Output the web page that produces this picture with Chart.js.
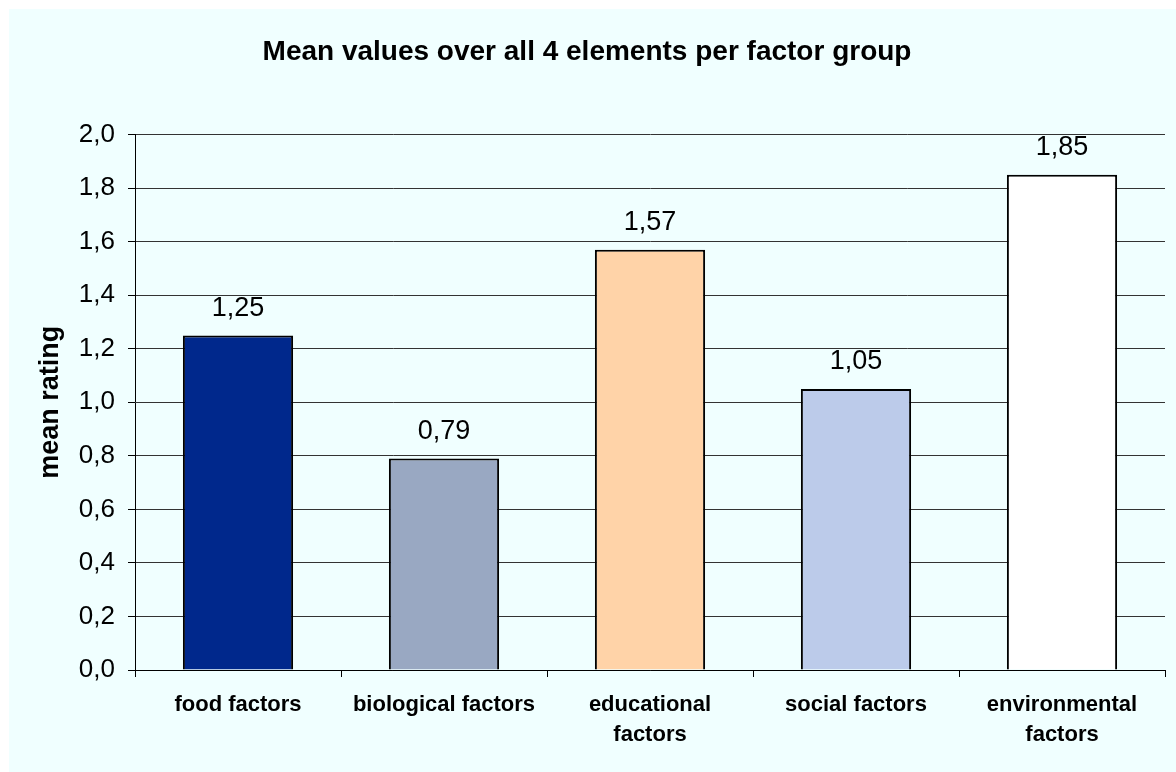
<!DOCTYPE html>
<html>
<head>
<meta charset="utf-8">
<script src="https://cdn.jsdelivr.net/npm/chart.js"></script>
<style>
  html, body { margin: 0; padding: 0; background: #ffffff; }
  #wrap { width: 1176px; height: 772px; }
</style>
</head>
<body>
<div id="wrap"><canvas id="chart" width="1176" height="772"></canvas></div>
<script>
// data
const categories = ["food factors", "biological factors", ["educational", "factors"], "social factors", ["environmental", "factors"]];
const meanRating = [1.25, 0.79, 1.57, 1.05, 1.85];
const barColors = ["#00288c", "#99a8c2", "#ffd3a8", "#bccbea", "#ffffff"];

const FONT = "'Liberation Sans', Arial, Helvetica, sans-serif";
const fmt = v => v.toFixed(1).replace('.', ',');

// light cyan panel behind the chart
const panelBg = {
    id: 'panelBg',
    beforeDraw(chart) {
        const ctx = chart.ctx;
        ctx.save();
        ctx.fillStyle = '#f0ffff';
        ctx.fillRect(9, 9, chart.width - 9, chart.height - 9);
        ctx.restore();
    }
};

// value labels above each bar
const valueLabels = {
    id: 'valueLabels',
    afterDatasetsDraw(chart) {
        const ctx = chart.ctx;
        const meta = chart.getDatasetMeta(0);
        ctx.save();
        ctx.font = "27px " + FONT;
        ctx.fillStyle = '#000';
        ctx.textAlign = 'center';
        ctx.textBaseline = 'middle';
        meta.data.forEach((bar, i) => {
            ctx.fillText(meanRating[i].toFixed(2).replace('.', ','), bar.x, bar.y - 27);
        });
        ctx.restore();
    }
};

new Chart(document.getElementById('chart').getContext('2d'), {
    type: 'bar',
    data: {
        labels: categories,
        datasets: [{
            label: 'mean rating',
            data: meanRating,
            backgroundColor: barColors,
            borderColor: '#000000',
            borderWidth: 2,
            categoryPercentage: 1.0,
            barPercentage: 0.535
        }]
    },
    options: {
        responsive: false,
        animation: false,
        layout: { padding: { left: 9, right: 11, top: 0, bottom: 0 } },
        plugins: {
            legend: { display: false },
            tooltip: { enabled: false },
            title: {
                display: true,
                text: 'Mean values over all 4 elements per factor group',
                color: '#000',
                font: { family: FONT, size: 28, weight: 'bold', lineHeight: 1.2 },
                padding: { top: 35, bottom: 66 }
            }
        },
        scales: {
            x: {
                afterFit(scale) { scale.height = 102; },
                grid: {
                    offset: true,
                    drawOnChartArea: false,
                    drawTicks: true,
                    tickLength: 7,
                    color: '#000'
                },
                border: { color: '#000', width: 1 },
                ticks: {
                    color: '#000',
                    padding: 13,
                    maxRotation: 0,
                    autoSkip: false,
                    font: { family: FONT, size: 22, weight: 'bold', lineHeight: 1.35 }
                }
            },
            y: {
                min: 0,
                max: 2,
                afterFit(scale) { scale.width = 126; },
                grid: {
                    color: '#333',
                    lineWidth: 1,
                    tickLength: 7,
                    tickColor: '#000'
                },
                border: { color: '#000', width: 1 },
                ticks: {
                    stepSize: 0.2,
                    color: '#000',
                    padding: 13,
                    font: { family: FONT, size: 26 },
                    callback: v => fmt(v)
                },
                title: {
                    display: true,
                    text: 'mean rating',
                    color: '#000',
                    font: { family: FONT, size: 27, weight: 'bold', lineHeight: 1.2 },
                    padding: { top: 25, bottom: 0 }
                }
            }
        }
    },
    plugins: [panelBg, valueLabels]
});
</script>
</body>
</html>
